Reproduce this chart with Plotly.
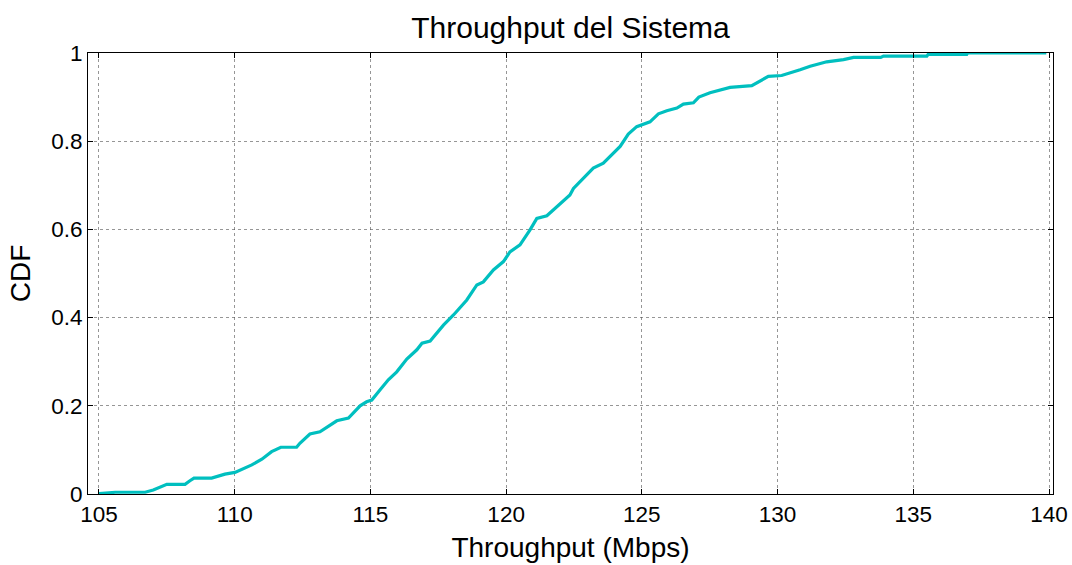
import plotly.graph_objects as go

throughput = [105.0, 105.5, 105.6, 106.7, 107.0, 107.5, 108.17, 108.35, 108.5, 109.15,
              109.64, 110.01, 110.63, 111.0, 111.36, 111.7, 112.28, 112.4, 112.77, 113.14,
              113.45, 113.76, 114.19, 114.62, 114.86, 115.05, 115.35, 115.66, 115.97, 116.34,
              116.71, 116.9, 117.2, 117.69, 118.06, 118.55, 118.92, 119.16, 119.53, 119.9,
              120.14, 120.51, 120.88, 121.13, 121.5, 121.99, 122.35, 122.48, 122.85, 123.21,
              123.58, 123.83, 124.2, 124.5, 124.81, 125.3, 125.61, 125.92, 126.29, 126.53,
              126.9, 127.1, 127.51, 128.25, 129.05, 129.66, 130.15, 130.83, 131.2, 131.81,
              132.43, 132.8, 133.8, 133.9, 135.5, 135.55, 136.97, 137.0, 139.9]
cdf = [0.001, 0.002, 0.004, 0.004, 0.009, 0.022, 0.022, 0.030, 0.036, 0.036,
       0.045, 0.049, 0.066, 0.079, 0.096, 0.106, 0.106, 0.115, 0.136, 0.141,
       0.153, 0.166, 0.172, 0.200, 0.209, 0.213, 0.236, 0.259, 0.277, 0.306,
       0.327, 0.342, 0.347, 0.383, 0.406, 0.440, 0.474, 0.481, 0.508, 0.527,
       0.549, 0.565, 0.599, 0.625, 0.631, 0.659, 0.678, 0.693, 0.716, 0.739,
       0.750, 0.766, 0.788, 0.816, 0.833, 0.844, 0.862, 0.869, 0.875, 0.884,
       0.887, 0.900, 0.910, 0.922, 0.926, 0.947, 0.949, 0.962, 0.970, 0.980,
       0.985, 0.990, 0.990, 0.993, 0.993, 0.997, 0.997, 1.000, 1.000]

x_ticks = [105, 110, 115, 120, 125, 130, 135, 140]
y_ticks = [0, 0.2, 0.4, 0.6, 0.8, 1]
y_tick_labels = ["0", "0.2", "0.4", "0.6", "0.8", "1"]

FONT = "Liberation Sans, Arial, sans-serif"

fig = go.Figure()
fig.add_trace(go.Scatter(x=throughput, y=cdf, mode="lines",
                         line=dict(color="rgb(0,191,191)", width=3.2),
                         showlegend=False, hoverinfo="x+y"))

axis_common = dict(
    showline=True, linecolor="black", linewidth=1, mirror="ticks",
    ticks="inside", ticklen=5, tickcolor="black", tickwidth=1,
    showgrid=True, gridcolor="rgba(80,80,80,0.6)", griddash="dot", gridwidth=1,
    zeroline=False, automargin=False,
    tickfont=dict(family=FONT, size=22.5, color="black"),
)

fig.update_xaxes(range=[104.595, 140.147], tickvals=x_ticks,
                 title=dict(text="Throughput (Mbps)", font=dict(family=FONT, size=28, color="black"), standoff=11),
                 **axis_common)
fig.update_yaxes(range=[0, 1], tickvals=y_ticks, ticktext=y_tick_labels,
                 title=dict(text="CDF", font=dict(family=FONT, size=28, color="black"), standoff=12),
                 **axis_common)

fig.update_layout(
    width=1072, height=565,
    margin=dict(l=88, r=19, t=53, b=71),
    paper_bgcolor="white", plot_bgcolor="white",
    title=dict(text="Throughput del Sistema", font=dict(family=FONT, size=30, color="black"),
               x=0.5, xanchor="center", xref="paper", y=1 - 27 / 565, yanchor="middle", yref="container"),
)

fig.write_html("out.html")
